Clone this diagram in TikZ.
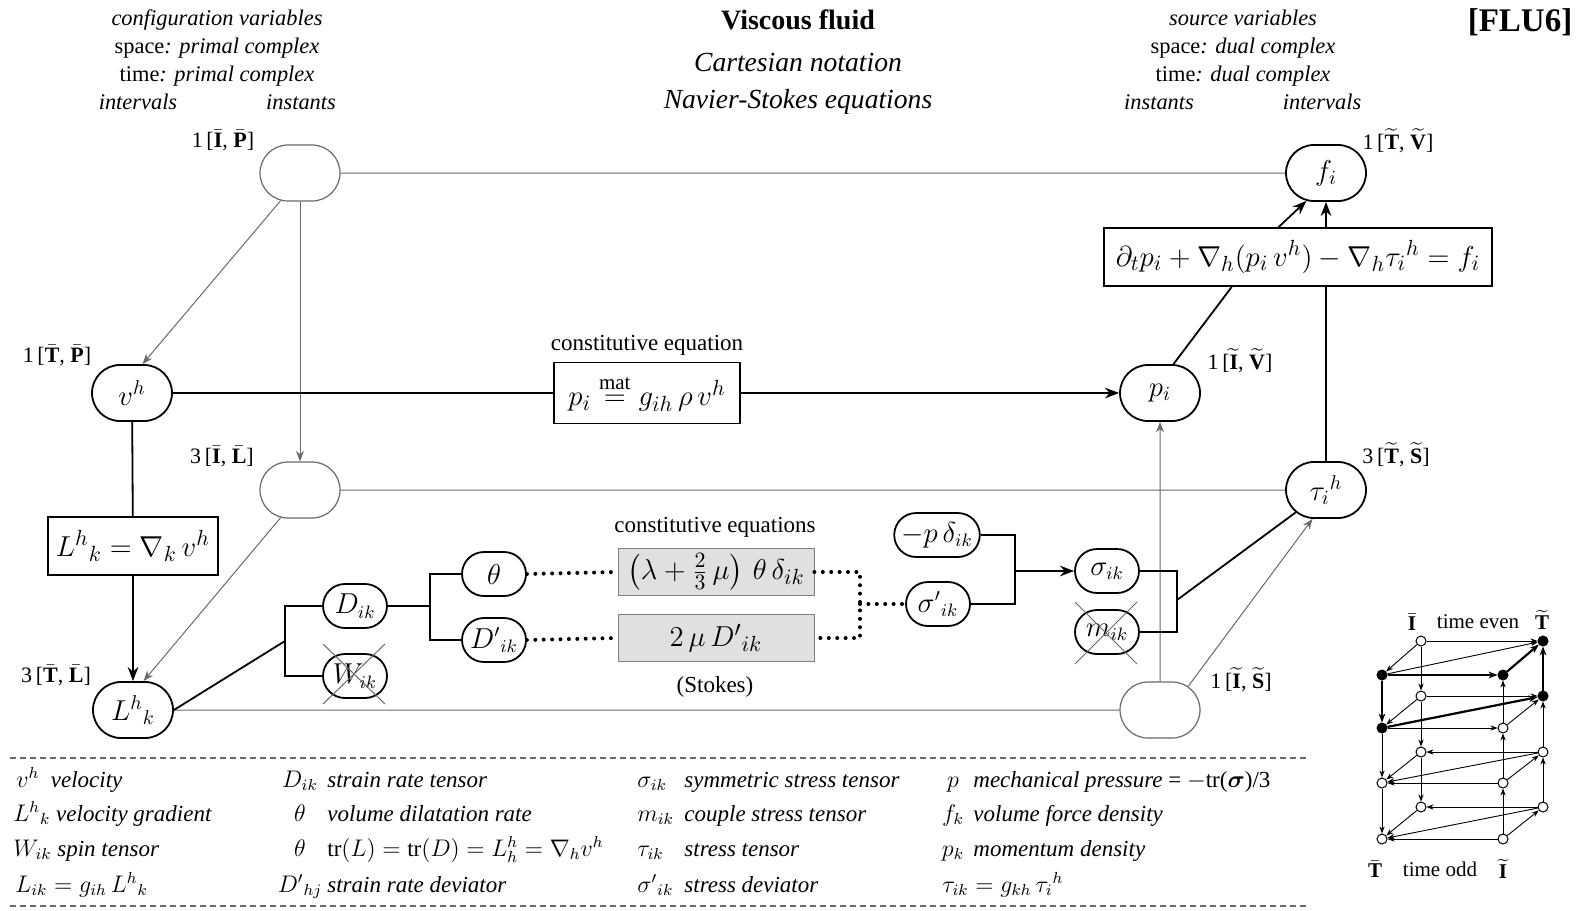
\documentclass[tikz,border=0pt]{standalone}
\usepackage{amsmath,amssymb,bm}
\usepackage{fontspec}
\setmainfont{Liberation Serif}
\usepackage{tikz}
\usetikzlibrary{arrows.meta,calc,positioning,shapes.misc}
\definecolor{thinline}{RGB}{105,105,105}
\definecolor{boxgray}{RGB}{224,224,224}
\newcommand{\primal}[1]{\bar{\mathbf{#1}}}
\newcommand{\dual}[1]{\widetilde{\mathbf{#1}}}

\begin{document}
\begin{tikzpicture}[x=0.5pt,y=-0.5pt,>=Stealth,
  var/.style={rounded rectangle,draw,line width=0.9pt,minimum width=42pt,minimum height=28pt,inner sep=1pt,font=\fontsize{14}{17}\selectfont},
  blank/.style={var,draw=thinline,line width=0.6pt},
  small/.style={rounded rectangle,draw,line width=0.9pt,minimum width=35pt,minimum height=22pt,inner sep=1.5pt,font=\fontsize{13.5}{16}\selectfont},
  eqbox/.style={draw,line width=0.9pt,inner sep=4pt,minimum height=29pt,font=\fontsize{15}{18}\selectfont},
  conbox/.style={draw=gray,fill=boxgray,minimum width=98pt,minimum height=23.5pt,inner sep=1pt,font=\fontsize{15}{18}\selectfont},
  dimlbl/.style={font=\fontsize{11}{13}\selectfont},
  hdr/.style={font=\fontsize{11.2}{14}\selectfont,align=center},
  subhead/.style={font=\fontsize{13.8}{16}\selectfont\itshape},
  headline/.style={font=\fontsize{14}{16}\selectfont\bfseries},
  legsym/.style={font=\fontsize{11.5}{14}\selectfont,anchor=base,inner sep=0pt},
  legtext/.style={font=\fontsize{11.5}{14}\selectfont\itshape,anchor=base west,inner sep=0pt},
  conn/.style={thinline,line width=0.5pt},
  strong/.style={line width=0.9pt},
  dotline/.style={line width=2pt,line cap=round,dash pattern=on 0pt off 4.2pt},
  crossout/.style={thinline,line width=0.5pt},
  dotnode/.style={circle,draw,line width=0.5pt,inner sep=0pt,minimum size=5pt},
  cubeedge/.style={line width=0.45pt,-{Stealth[length=3.5pt]}},
  cubebold/.style={line width=1.1pt,-{Stealth[length=4.5pt]}}]
  \useasboundingbox (0,0) rectangle (1584,910);

  % headings
  \node[hdr] (cfg) at (217,48) {\textit{configuration variables}\\space\textit{: primal complex}\\time\textit{: primal complex}};
  \node[hdr] (cfgl) at (138,102) {\textit{intervals}};
  \node[hdr] (cfgr) at (301,102) {\textit{instants}};
  \node[headline] (ttl) at (798,20) {Viscous fluid};
  \node[subhead] (cart) at (798,63) {Cartesian notation};
  \node[subhead] (nse) at (798,102) {Navier-Stokes equations};
  \node[hdr] (src) at (1243,48) {\textit{source variables}\\space\textit{: dual complex}\\time\textit{: dual complex}};
  \node[hdr] (srcl) at (1159,102) {\textit{instants}};
  \node[hdr] (srcr) at (1322,102) {\textit{intervals}};
  \node[headline,font=\fontsize{16.5}{18}\selectfont\bfseries] (flu) at (1520,22) {[FLU6]};

  % variables
  \node[blank] (bP) at (300,173) {};
  \node[var] (vh) at (132,393) {$v^h$};
  \node[blank] (bL) at (300,490) {};
  \node[eqbox] (Lbox) at (133,546) {$L^h{}_k = \nabla_k\, v^h$};
  \node[var] (Lk) at (133,710) {$L^h{}_k$};
  \node[var] (fi) at (1326,173) {$f_i$};
  \node[eqbox,minimum width=194pt] (momeq) at (1298,257) {$\partial_t p_i + \nabla_h(p_i\, v^h) - \nabla_h\tau_i{}^h = f_i$};
  \node[var] (pi) at (1160,393) {$p_i$};
  \node[var] (tau) at (1326,490) {$\tau_i{}^h$};
  \node[blank] (bS) at (1160,710) {};
  \node[eqbox,minimum width=93pt,minimum height=30.5pt] (pbox) at (647,393) {$p_i \overset{\mathrm{mat}}{=} g_{ih}\,\rho\, v^h$};

  \node[dimlbl] (lP) at (223,140) {1\,[$\primal{I}$, $\primal{P}$]};
  \node[dimlbl] (lv) at (57,355) {1\,[$\primal{T}$, $\primal{P}$]};
  \node[dimlbl] (lL) at (222,456) {3\,[$\primal{I}$, $\primal{L}$]};
  \node[dimlbl] (lLk) at (56,675) {3\,[$\primal{T}$, $\primal{L}$]};
  \node[dimlbl] (lf) at (1398,141) {1\,[$\dual{T}$, $\dual{V}$]};
  \node[dimlbl] (lp) at (1240,361) {1\,[$\dual{I}$, $\dual{V}$]};
  \node[dimlbl] (lt) at (1396,455) {3\,[$\dual{T}$, $\dual{S}$]};
  \node[dimlbl] (lS) at (1241,680) {1\,[$\dual{I}$, $\dual{S}$]};
  \node[dimlbl,font=\fontsize{11.5}{14}\selectfont] (ce1) at (647,345) {constitutive equation};
  \node[dimlbl,font=\fontsize{11.5}{14}\selectfont] (ce2) at (715,527) {constitutive equations};
  \node[dimlbl,font=\fontsize{11.5}{14}\selectfont] (stk) at (715,687) {(Stokes)};

  % strain and stress
  \node[small] (Dik) at (355,606) {$D_{ik}$};
  \node[small] (Wik) at (355,676) {$W_{ik}$};
  \node[small] (th) at (494,574) {$\theta$};
  \node[small] (Dp) at (494,640) {$D'{}_{ik}$};
  \node[conbox] (cb1) at (716,572) {$\left(\lambda + \frac{2}{3}\,\mu\right)\,\theta\,\delta_{ik}$};
  \node[conbox] (cb2) at (716,638) {$2\,\mu\,D'{}_{ik}$};
  \node[small] (mpd) at (937,535) {$-p\,\delta_{ik}$};
  \node[small] (sgp) at (938,604) {$\sigma'{}_{ik}$};
  \node[small] (sg) at (1107,571) {$\sigma_{ik}$};
  \node[small] (mik) at (1107,632) {$m_{ik}$};
  \coordinate (jL) at (285,641);
  \coordinate (jD) at (430,606);
  \coordinate (jS) at (860,604);
  \coordinate (jP) at (1015,571);
  \coordinate (jT) at (1177,600);

  % thin links
  \draw[conn] (bP) -- (fi);
  \draw[conn,->] (bP.235) -- (vh.70);
  \draw[conn,->] (bP) -- (bL);
  \draw[conn,->] (bL.235) -- (Lk.70);
  \draw[conn] (bL) -- (tau);
  \draw[conn] (Lk) -- (bS);
  \draw[conn,->] (bS) -- (pi);
  \draw[conn,->] (bS.40) -- (tau.245);

  % thick links
  \draw[strong] (vh) -- (pbox);
  \draw[strong,->] (pbox) -- (pi);
  \draw[strong] (vh) -- (Lbox);
  \draw[strong,->] (Lbox) -- (Lk);
  \draw[strong] (pi.65) -- ($(momeq.south west)!0.33!(momeq.south east)$);
  \draw[strong,->] ($(momeq.north west)!0.45!(momeq.north east)$) -- (fi.235);
  \draw[strong] (tau) -- (tau |- momeq.south);
  \draw[strong,->] (tau |- momeq.north) -- (fi);
  \draw[strong] (Lk.east) -- (jL);
  \draw[strong] (Dik.west) -| (jL) |- (Wik.west);
  \draw[strong] (Dik.east) -- (jD);
  \draw[strong] (th.west) -| (jD) |- (Dp.west);
  \draw[dotline] (th.east) -- (cb1.west);
  \draw[dotline] (Dp.east) -- (cb2.west);
  \draw[dotline] (cb1.east) -| (jS) |- (cb2.east);
  \draw[dotline] (jS) -- (sgp.west);
  \draw[strong] (mpd.east) -| (jP) |- (sgp.east);
  \draw[strong,->] (jP) -- (sg.west);
  \draw[strong] (sg.east) -| (jT) |- (mik.east);
  \draw[strong] (jT) -- (tau);

  % crossed out
  \draw[crossout] ($(Wik)+(-32,-32)$) -- ($(Wik)+(30,28)$) ($(Wik)+(30,-32)$) -- ($(Wik)+(-32,28)$);
  \draw[crossout] ($(mik)+(-32,-30)$) -- ($(mik)+(30,32)$) ($(mik)+(30,-30)$) -- ($(mik)+(-32,32)$);

  % legend
  \draw[thinline,line width=0.6pt,dash pattern=on 3pt off 2pt] (10,758) -- (1306,758);
  \draw[thinline,line width=0.6pt,dash pattern=on 3pt off 2pt] (10,906) -- (1306,906);
  \node[legtext] (k1a) at (16,787) {$v^h$\ \ velocity};
  \node[legtext] (k1b) at (13,821) {$L^h{}_k$ velocity gradient};
  \node[legtext] (k1c) at (13,856) {$W_{ik}$ spin tensor};
  \node[legtext] (k1d) at (15,892) {$L_{ik} = g_{ih}\, L^h{}_k$};
  \foreach \n/\y/\s/\t in {a/787/D_{ik}/strain rate tensor, b/821/\theta/volume dilatation rate,
      c/856/\theta/{\upshape $\mathrm{tr}(L) = \mathrm{tr}(D) = L^h_h = \nabla_h v^h$}, d/892/D'{}_{hj}/strain rate deviator}{
    \node[legsym] (s2\n) at (300,\y) {$\s$};
    \node[legtext] (t2\n) at (327,\y) {\t};
  }
  \foreach \n/\y/\s/\t in {a/787/\sigma_{ik}/symmetric stress tensor, b/821/m_{ik}/couple stress tensor,
      c/856/\tau_{ik}/stress tensor, d/892/\sigma'{}_{ik}/stress deviator}{
    \node[legsym,anchor=base west] (s3\n) at (637,\y) {$\s$};
    \node[legtext] (t3\n) at (684,\y) {\t};
  }
  \foreach \n/\y/\s/\t in {a/787/p/{mechanical pressure {\upshape = $-$tr($\bm{\sigma}$)/3}},
      b/821/f_k/volume force density, c/856/p_k/momentum density}{
    \node[legsym] (s4\n) at (953,\y) {$\s$};
    \node[legtext] (t4\n) at (973,\y) {\t};
  }
  \node[legtext] (t4d) at (942,892) {$\tau_{ik} = g_{kh}\,\tau_i{}^h$};

  % time cube
  \foreach \lv/\yb/\yf/\fa/\fb/\fc/\fd in {1/641/675/white/black/black/black, 2/696/728/white/black/black/white,
      3/752/783/white/white/white/white, 4/807/839/white/white/white/white}{
    \node[dotnode,fill=\fa] (bl\lv) at (1421,\yb) {};
    \node[dotnode,fill=\fb] (br\lv) at (1543,\yb) {};
    \node[dotnode,fill=\fc] (fl\lv) at (1382,\yf) {};
    \node[dotnode,fill=\fd] (fr\lv) at (1503,\yf) {};
  }
  \draw[cubeedge] (bl1) -- (br1);
  \draw[cubeedge] (bl1) -- (fl1);
  \draw[cubeedge] (fl1) -- (br1);
  \draw[cubeedge] (bl1) -- (bl2);
  \draw[cubeedge] (fr2) -- (fr1);
  \draw[cubebold] (fl1) -- (fr1);
  \draw[cubebold] (fr1) -- (br1);
  \draw[cubebold] (fl1) -- (fl2);
  \draw[cubebold] (br2) -- (br1);
  \draw[cubebold] (fl2) -- (br2);
  \draw[cubeedge] (bl2) -- (br2);
  \draw[cubeedge] (bl2) -- (fl2);
  \draw[cubeedge] (fl2) -- (fr2);
  \draw[cubeedge] (fr2) -- (br2);
  \foreach \lv/\up in {3/2,4/3}{
    \draw[cubeedge] (bl\up) -- (bl\lv);
    \draw[cubeedge] (fl\up) -- (fl\lv);
    \draw[cubeedge] (br\lv) -- (br\up);
    \draw[cubeedge] (fr\lv) -- (fr\up);
    \draw[cubeedge] (br\lv) -- (bl\lv);
    \draw[cubeedge] (br\lv) -- (fl\lv);
    \draw[cubeedge] (fr\lv) -- (fl\lv);
    \draw[cubeedge] (bl\lv) -- (fl\lv);
    \draw[cubeedge] (fr\lv) -- (br\lv);
  }
  \node[dimlbl,font=\fontsize{10.5}{12}\selectfont] (ceI) at (1412,622) {$\primal{I}$};
  \node[dimlbl,font=\fontsize{10.5}{12}\selectfont] (ceven) at (1478,622) {time even};
  \node[dimlbl,font=\fontsize{10.5}{12}\selectfont] (ceT) at (1542,620) {$\dual{T}$};
  \node[dimlbl,font=\fontsize{10.5}{12}\selectfont] (coT) at (1375,869) {$\primal{T}$};
  \node[dimlbl,font=\fontsize{10.5}{12}\selectfont] (codd) at (1440,869) {time odd};
  \node[dimlbl,font=\fontsize{10.5}{12}\selectfont] (coI) at (1503,869) {$\dual{I}$};
\end{tikzpicture}
\end{document}
